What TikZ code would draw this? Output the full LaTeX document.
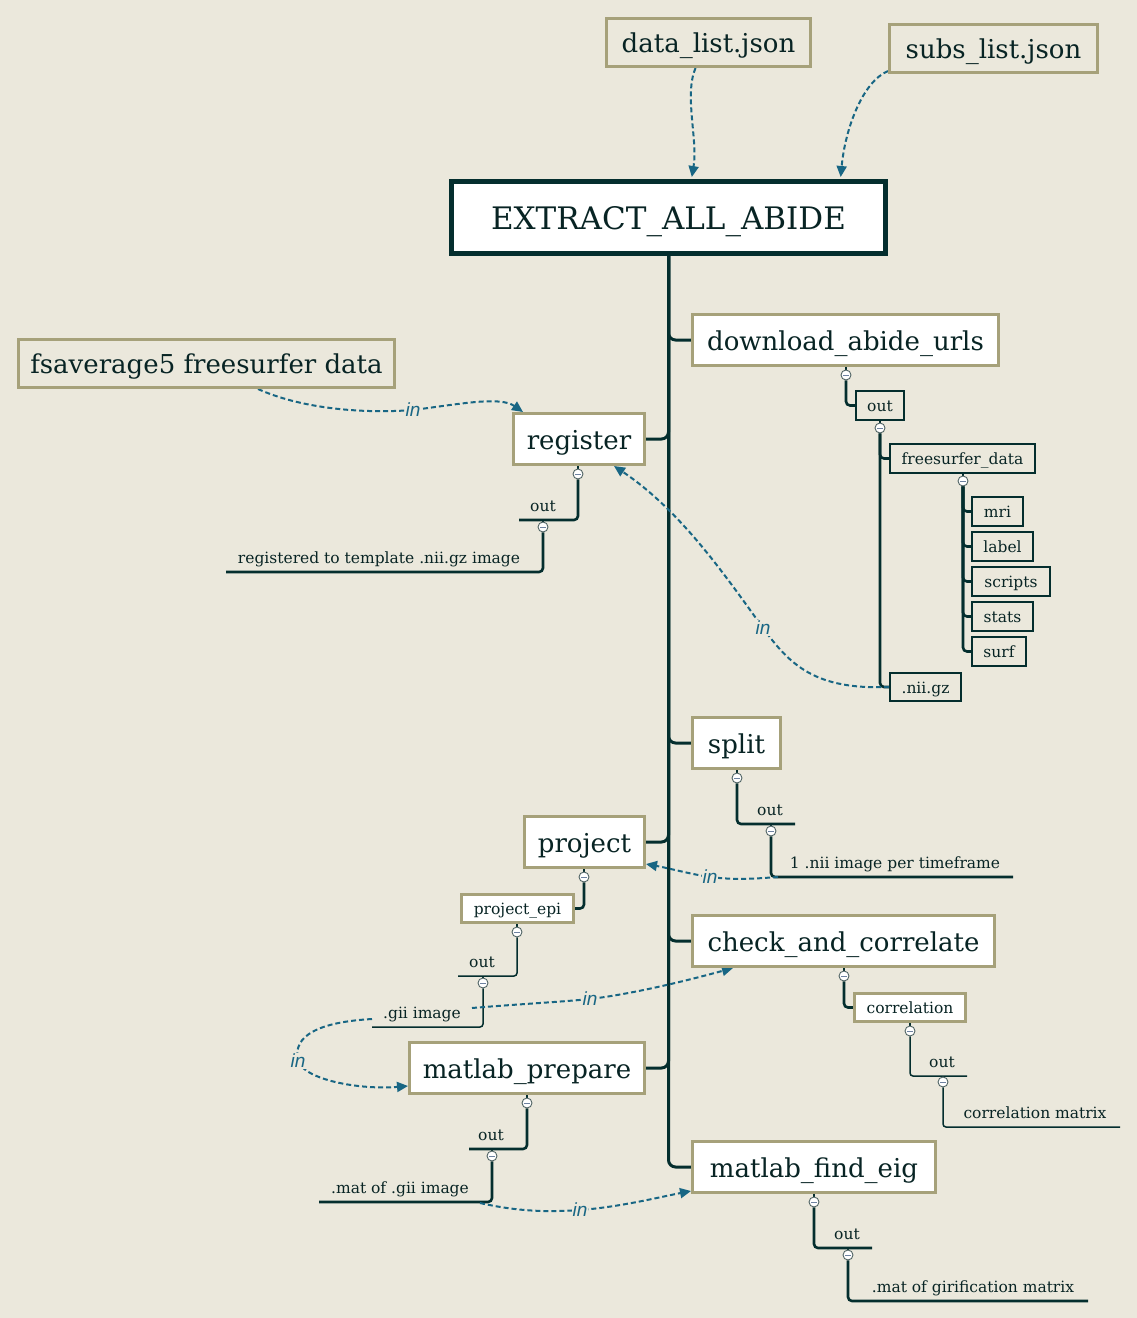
\documentclass[tikz,border=0pt]{standalone}
\usepackage{fontspec}
\setmainfont{DejaVu Serif}
\newfontfamily\infont{Liberation Sans}
\usetikzlibrary{arrows.meta}
\definecolor{bg}{RGB}{235,232,220}
\definecolor{olive}{RGB}{166,161,122}
\definecolor{dk}{RGB}{4,46,46}
\definecolor{txt}{RGB}{8,36,36}
\definecolor{blu}{RGB}{24,102,132}
\definecolor{mkline}{RGB}{80,100,100}
\definecolor{mkminus}{RGB}{110,130,160}
\pgfdeclarelayer{back}
\pgfdeclarelayer{edges}
\pgfsetlayers{back,edges,main}
\begin{document}
\begin{tikzpicture}[x=1pt,y=-1pt,
  big/.style={font=\fontsize{26}{30}\selectfont, text height=20pt},
  sml/.style={font=\fontsize{15.5}{18}\selectfont, text height=12pt},
  bx/.style={inner sep=0pt, text depth=0pt, text=txt, align=center},
  obox/.style={bx, draw=olive, line width=3pt, fill=white},
  gbox/.style={bx, draw=olive, line width=3pt},
  dbox/.style={bx, sml, draw=dk, line width=2pt},
  lbl/.style={font=\fontsize{15.5}{18}\selectfont, text=txt, anchor=base, inner sep=1pt, fill=bg},
  trunk/.style={draw=dk, line width=3pt, rounded corners=7pt},
  br/.style={draw=dk, line width=2.6pt, rounded corners=4pt},
  brt/.style={draw=dk, line width=1.5pt, rounded corners=3pt},
  flow/.style={draw=blu, line width=2pt, dash pattern=on 5pt off 3pt, -{Triangle[length=11pt,width=10pt]}},
  inl/.style={font=\infont\itshape\fontsize{19}{22}\selectfont, text=blu, fill=bg, inner sep=1pt},
  mk/.style={circle, minimum size=10pt, inner sep=0pt, draw=mkline, line width=0.9pt, fill=white,
    path picture={\draw[mkminus, line width=1pt] ([xshift=-2.8pt]path picture bounding box.center) -- ([xshift=2.8pt]path picture bounding box.center);}},
]
\useasboundingbox (0,0) rectangle (1137,1318);
\begin{pgfonlayer}{back}
\fill[bg] (0,0) rectangle (1137,1318);
\end{pgfonlayer}

% ---------- main boxes ----------
\node[gbox,big,minimum width=204pt,minimum height=48pt] (dl) at (708.5,42.5) {data\_list.json};
\node[gbox,big,minimum width=208pt,minimum height=48pt] (sub) at (993.5,48.5) {subs\_list.json};
\node[gbox,big,minimum width=376pt,minimum height=48pt] (fs) at (206.5,363.5) {fsaverage5 freesurfer data};
\node[bx, draw=dk, line width=5pt, fill=white, font=\fontsize{31}{36}\selectfont, text height=23pt,
  minimum width=434pt, minimum height=72pt] (main) at (668.5,217.5) {EXTRACT\_ALL\_ABIDE};
\node[obox,big,minimum width=306pt,minimum height=51pt] (dau) at (845.5,340) {download\_abide\_urls};
\node[obox,big,minimum width=131pt,minimum height=51pt] (reg) at (579,439) {register};
\node[obox,big,minimum width=88pt,minimum height=51pt] (split) at (736.5,743) {split};
\node[obox,big,minimum width=120pt,minimum height=51pt] (proj) at (584.5,842) {project};
\node[obox,big,minimum width=302pt,minimum height=51pt] (cac) at (843.5,941) {check\_and\_correlate};
\node[obox,big,minimum width=235pt,minimum height=51pt] (mp) at (527,1068) {matlab\_prepare};
\node[obox,big,minimum width=243pt,minimum height=51pt] (mfe) at (814,1167) {matlab\_find\_eig};

% ---------- download subtree ----------
\node[mk] (d1) at (846,375) {};
\node[dbox, minimum width=48pt, minimum height=29pt] (dout) at (880,405.5) {out};
\node[mk] (d2) at (880,428) {};
\node[dbox, minimum width=145pt, minimum height=29pt] (fsd) at (962.5,458.5) {freesurfer\_data};
\node[dbox, minimum width=71pt, minimum height=28pt] (nii) at (925.5,687) {.nii.gz};
\node[mk] (d3) at (963,481) {};
\node[dbox, minimum width=51pt, minimum height=29pt] (mri) at (997.5,511.5) {mri};
\node[dbox, minimum width=61pt, minimum height=29pt] (lab) at (1002.5,546.5) {label};
\node[dbox, minimum width=78pt, minimum height=29pt] (scr) at (1011,581.5) {scripts};
\node[dbox, minimum width=61pt, minimum height=29pt] (sta) at (1002.5,616.5) {stats};
\node[dbox, minimum width=54pt, minimum height=29pt] (srf) at (999,651.5) {surf};

% ---------- register subtree ----------
\node[mk] (r1) at (578,474) {};
\node[lbl] (rout) at (543,511) {out};
\coordinate (routL) at (519,520);
\node[mk] (r2) at (543,527) {};
\node[lbl] (rimg) at (379,563) {registered to template .nii.gz image};
\coordinate (rimgL) at (226,572);

% ---------- split subtree ----------
\node[mk] (s1) at (737,778) {};
\node[lbl] (sout) at (770,815) {out};
\coordinate (soutR) at (795,824);
\node[mk] (s2) at (771,831) {};
\node[lbl] (snii) at (895,868) {1 .nii image per timeframe};
\coordinate (sniiR) at (1013,877);

% ---------- project subtree ----------
\node[mk] (p1) at (584,877) {};
\node[obox, sml, minimum width=112pt, minimum height=28pt] (pepi) at (517.5,908.5) {project\_epi};
\node[mk] (p2) at (517,932) {};
\node[lbl] (pout) at (482,967) {out};
\coordinate (poutL) at (458,976);
\node[mk] (p3) at (483,983) {};
\node[lbl] (gii) at (422,1018) {.gii image};
\coordinate (giiL) at (372,1027);

% ---------- check subtree ----------
\node[mk] (c1) at (844,976) {};
\node[obox, sml, minimum width=111pt, minimum height=28pt] (corr) at (910,1007.5) {correlation};
\node[mk] (c2) at (910,1031) {};
\node[lbl] (cout) at (942,1067) {out};
\coordinate (coutR) at (967,1076);
\node[mk] (c3) at (943,1082) {};
\node[lbl] (cmat) at (1035,1118) {correlation matrix};
\coordinate (cmatR) at (1120,1127);

% ---------- matlab_prepare subtree ----------
\node[mk] (m1) at (527,1103) {};
\node[lbl] (mout) at (491,1140) {out};
\coordinate (moutL) at (469,1149);
\node[mk] (m2) at (492,1156) {};
\node[lbl] (mmat) at (400,1193) {.mat of .gii image};
\coordinate (mmatL) at (319,1202);

% ---------- matlab_find_eig subtree ----------
\node[mk] (f1) at (814,1202) {};
\node[lbl] (fout) at (847,1239) {out};
\coordinate (foutR) at (872,1248);
\node[mk] (f2) at (848,1255) {};
\node[lbl] (fmat) at (973,1292) {.mat of girification matrix};
\coordinate (fmatR) at (1088,1301);

% ---------- flow edge end points ----------
\coordinate (e5s) at (778,877);
\coordinate (e6s) at (472,1008);
\coordinate (e7s) at (372,1019);
\coordinate (e8s) at (480,1203);

% ---------- in labels ----------
\node[inl] (in1) at (413,410) {in};
\node[inl] (in2) at (763,628) {in};
\node[inl] (in3) at (710,877) {in};
\node[inl] (in4) at (590,999) {in};
\node[inl] (in5) at (298,1061) {in};
\node[inl] (in6) at (580,1210) {in};

\begin{pgfonlayer}{edges}
% trunk
\foreach \t in {dau.west,split.west,cac.west,mfe.west,reg.east,proj.east,mp.east}
  \draw[trunk] (main.south) |- (\t);
% download subtree
\draw[br] (d1.north) -- (d1.north |- dau.south);
\draw[br] (d1.south) |- (dout.west);
\draw[br] (d2.north) -- (d2.north |- dout.south);
\draw[br] (d2.south) |- (fsd.west);
\draw[br] (d2.south) |- (nii.west);
\draw[br] (d3.north) -- (d3.north |- fsd.south);
\foreach \n in {mri,lab,scr,sta,srf}
  \draw[br] (d3.south) |- (\n.west);
% register subtree
\draw[br] (r1.north) -- (r1.north |- reg.south);
\draw[br] (r1.south) |- (routL);
\draw[br] (r2.north) -- (r2.north |- routL);
\draw[br] (r2.south) |- (rimgL);
% split subtree
\draw[br] (s1.north) -- (s1.north |- split.south);
\draw[br] (s1.south) |- (soutR);
\draw[br] (s2.north) -- (s2.north |- soutR);
\draw[br] (s2.south) |- (sniiR);
% project subtree
\draw[br] (p1.north) -- (p1.north |- proj.south);
\draw[br] (p1.south) |- (pepi.east);
\draw[brt] (p2.north) -- (p2.north |- pepi.south);
\draw[brt] (p2.south) |- (poutL);
\draw[brt] (p3.north) -- (p3.north |- poutL);
\draw[brt] (p3.south) |- (giiL);
% check subtree
\draw[br] (c1.north) -- (c1.north |- cac.south);
\draw[br] (c1.south) |- (corr.west);
\draw[brt] (c2.north) -- (c2.north |- corr.south);
\draw[brt] (c2.south) |- (coutR);
\draw[brt] (c3.north) -- (c3.north |- coutR);
\draw[brt] (c3.south) |- (cmatR);
% matlab_prepare subtree
\draw[br] (m1.north) -- (m1.north |- mp.south);
\draw[br] (m1.south) |- (moutL);
\draw[br] (m2.north) -- (m2.north |- moutL);
\draw[br] (m2.south) |- (mmatL);
% matlab_find_eig subtree
\draw[br] (f1.north) -- (f1.north |- mfe.south);
\draw[br] (f1.south) |- (foutR);
\draw[br] (f2.north) -- (f2.north |- foutR);
\draw[br] (f2.south) |- (fmatR);

% flow edges
\draw[flow, shorten >=2pt] ([xshift=-13pt]dl.south) .. controls (684,95) and (698,140) .. ([xshift=23pt]main.north);
\draw[flow, shorten >=2pt] ([yshift=3pt]sub.south west) .. controls (862,82) and (845,130) .. ([xshift=172pt]main.north);
\draw[flow] ([xshift=51.5pt]fs.south) .. controls (300,408) and (360,414) .. (in1.center)
  .. controls (460,404) and (500,396) .. ([xshift=11pt]reg.north west);
\draw[flow] (nii.west) .. controls (815,690) and (790,665) .. (in2.center)
  .. controls (725,575) and (680,510) .. ([xshift=-32pt]reg.south east);
\draw[flow] (e5s) .. controls (750,879) and (735,880) .. (in3.center)
  .. controls (690,874) and (668,868) .. ([yshift=5pt]proj.south east);
\draw[flow] (e6s) .. controls (520,1004) and (560,1002) .. (in4.center)
  .. controls (640,993) and (700,977) .. ([xshift=42pt]cac.south west);
\draw[flow] (e7s) .. controls (320,1022) and (292,1035) .. (in5.center)
  .. controls (305,1080) and (360,1090) .. ([yshift=-18pt]mp.west);
\draw[flow] (e8s) .. controls (520,1212) and (550,1212) .. (in6.center)
  .. controls (620,1207) and (660,1197) .. ([yshift=3pt]mfe.south west);
\end{pgfonlayer}
\end{tikzpicture}
\end{document}
